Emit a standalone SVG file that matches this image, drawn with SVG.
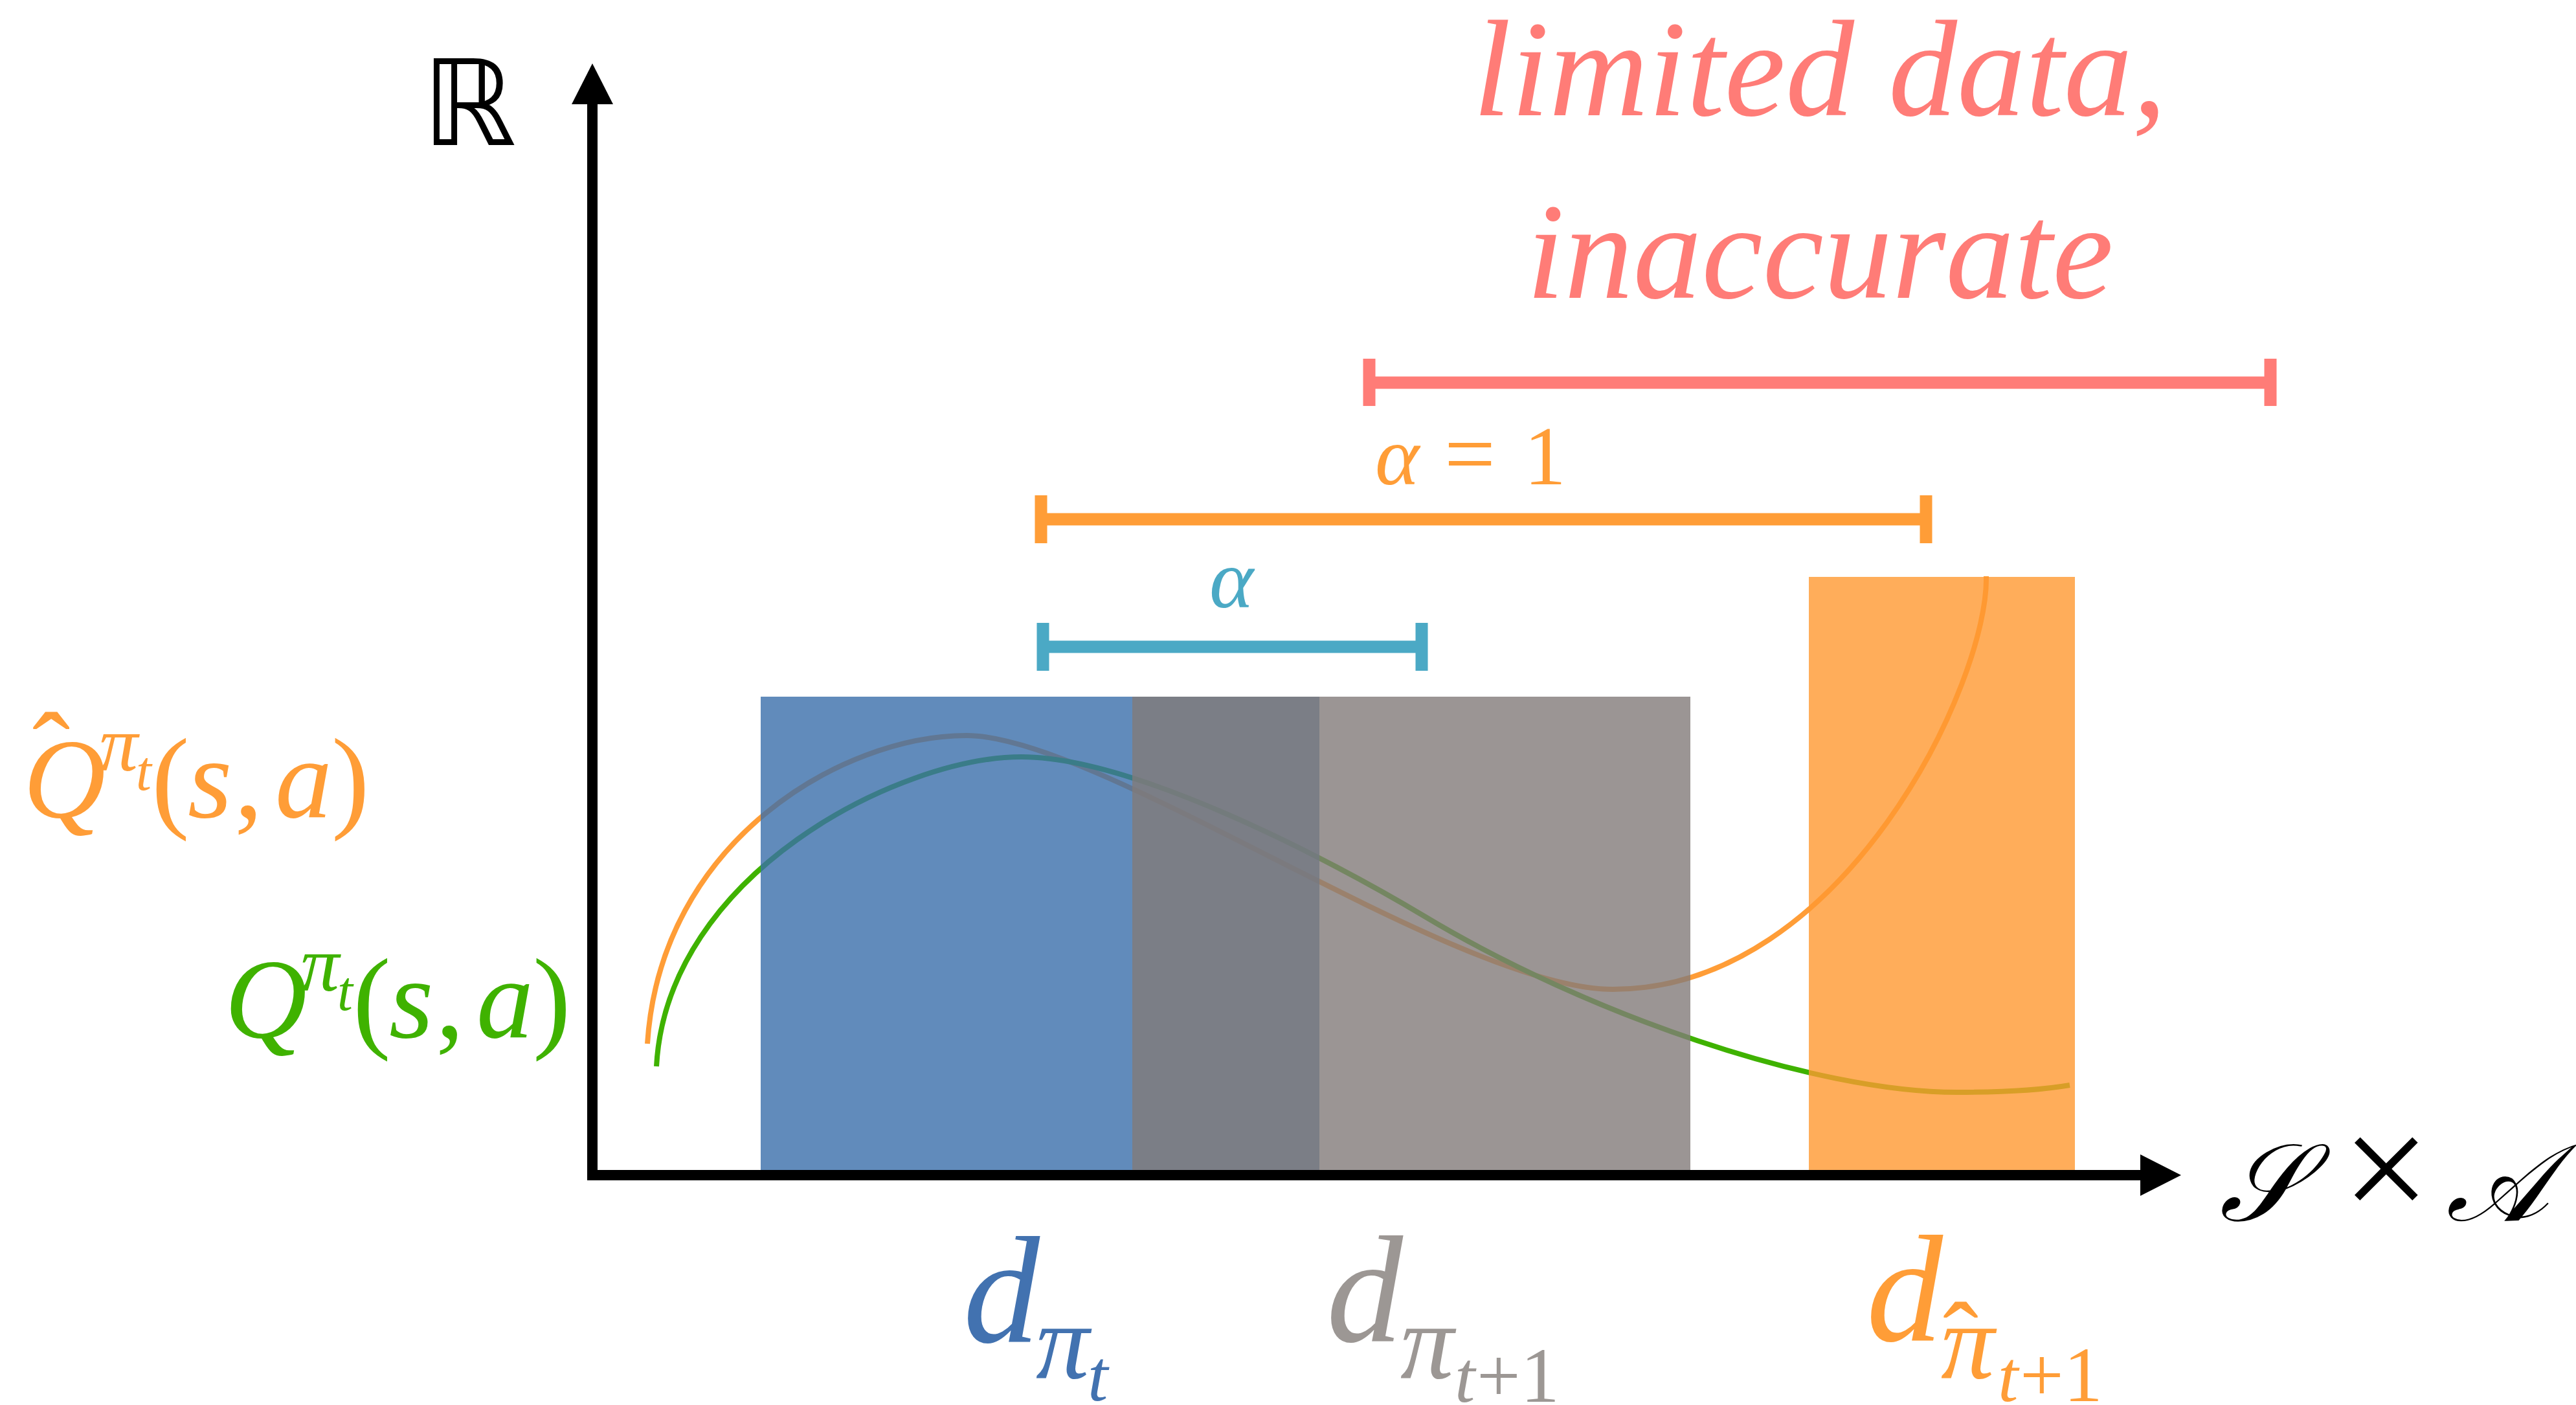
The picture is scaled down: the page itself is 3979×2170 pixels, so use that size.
<svg xmlns="http://www.w3.org/2000/svg" width="3979" height="2170" viewBox="0 0 3979 2170">
<style>
.m{font-family:"Liberation Serif","DejaVu Serif",serif;}
.i{font-style:italic;}
.u{font-style:normal;}
.cur{fill:none;stroke-width:8;stroke-linecap:butt;}
.bar{stroke-width:19;stroke-linecap:butt;fill:none;}
.ax{stroke:#000;stroke-width:16;fill:none;}
</style>
<defs>
<marker id="ah" markerUnits="userSpaceOnUse" markerWidth="64" markerHeight="64" refX="0" refY="32" orient="auto" viewBox="0 0 64 64">
<path d="M0,0 L63,32 L0,64 Z" fill="#000"/>
</marker>
</defs>
<rect width="3979" height="2170" fill="#fff"/>

<g id="curves">
<path id="q-hat-curve" class="cur" stroke="#FF9D37" d="M1000,1612 C1020,1300 1300,1136 1493,1136 C1700,1136 2250,1528 2491,1528 C2850,1528 3072,1050 3068,890"/>
<path id="q-curve" class="cur" stroke="#3FB200" d="M1014,1647 C1030,1350 1390,1169 1578,1169 C1750,1169 2050,1325 2200,1415 C2450,1565 2800,1687 3024,1687 C3100,1687 3150,1684 3197,1676"/>
</g>

<g id="dist-pi-t"><rect x="1175" y="1076" width="863" height="731" fill="#3A6EAA" fill-opacity="0.8"/></g>
<g id="dist-pi-t1"><rect x="1749" y="1076" width="862" height="731" fill="#827A79" fill-opacity="0.8"/></g>
<g id="dist-pi-hat-t1"><rect x="2794" y="891" width="411" height="916" fill="#FF9931" fill-opacity="0.8"/></g>

<g id="connectors">
<line class="ax" x1="908" y1="1815" x2="3306" y2="1815" marker-end="url(#ah)"/>
<line class="ax" x1="915" y1="1823" x2="915" y2="161" marker-end="url(#ah)"/>
</g>

<g id="interval-red">
<path class="bar" stroke="#FF7C77" d="M2115,591 H3507 M2115,554 V627 M3507,554 V627"/>
</g>
<g id="interval-alpha1">
<path class="bar" stroke="#FF9D37" d="M1608,802 H2975 M1608,765 V839 M2975,765 V839"/>
</g>
<g id="interval-alpha">
<path class="bar" stroke="#4BA9C5" d="M1611,999 H2196 M1611,962 V1036 M2196,962 V1036"/>
</g>

<g id="label-R"><text x="652" y="224" font-family="DejaVu Sans,sans-serif" font-size="184" fill="#000">ℝ</text></g>
<g id="label-SA"><text y="1885" class="m i" font-size="168" fill="#000"><tspan x="3428">𝒮</tspan><tspan class="u" x="3618" font-size="240">×</tspan><tspan x="3778">𝒜</tspan></text></g>

<g id="label-limited">
<text x="2811" y="178" class="m i" font-size="212" fill="#FF7C77" text-anchor="middle">limited data,</text>
<text x="2811" y="460" class="m i" font-size="212" fill="#FF7C77" text-anchor="middle">inaccurate</text>
</g>

<g id="label-alpha1"><text class="m" font-size="130" fill="#FF9D37" y="748"><tspan class="i" x="2124">α</tspan><tspan class="u" x="2231" font-size="140">=</tspan><tspan class="u" x="2354">1</tspan></text></g>
<g id="label-alpha"><text class="m i" font-size="130" fill="#4BA9C5" x="1902" y="938" text-anchor="middle">α</text></g>

<g id="label-qhat">
<text class="m" fill="#FF9D37" font-size="176">
<tspan class="u" x="101" y="1222" text-anchor="middle">ˆ</tspan>
<tspan class="i" x="36" y="1262">Q</tspan>
<tspan class="i" x="153" y="1190" font-size="120">π</tspan>
<tspan class="i" x="210" y="1220" font-size="86">t</tspan>
<tspan class="u" x="234" y="1262">(</tspan>
<tspan class="i" x="290" y="1262">s</tspan>
<tspan class="u" x="362" y="1262">,</tspan>
<tspan class="i" x="425" y="1262">a</tspan>
<tspan class="u" x="512" y="1262">)</tspan>
</text>
</g>

<g id="label-q">
<text class="m" fill="#3FB200" font-size="176">
<tspan class="i" x="347" y="1602">Q</tspan>
<tspan class="i" x="464" y="1530" font-size="120">π</tspan>
<tspan class="i" x="521" y="1560" font-size="86">t</tspan>
<tspan class="u" x="545" y="1602">(</tspan>
<tspan class="i" x="601" y="1602">s</tspan>
<tspan class="u" x="673" y="1602">,</tspan>
<tspan class="i" x="736" y="1602">a</tspan>
<tspan class="u" x="823" y="1602">)</tspan>
</text>
</g>

<g id="label-d-pi-t">
<text class="m i" fill="#4272B0" font-size="236">
<tspan x="1488" y="2073">d</tspan>
<tspan x="1600" y="2128" font-size="165">π</tspan>
<tspan x="1680" y="2163" font-size="113">t</tspan>
</text>
</g>

<g id="label-d-pi-t1">
<text class="m i" fill="#9C9794" font-size="236">
<tspan x="2049" y="2072">d</tspan>
<tspan x="2163" y="2128" font-size="165">π</tspan>
<tspan x="2247" y="2165" font-size="113">t</tspan>
<tspan class="u" x="2281" y="2165" font-size="120">+1</tspan>
</text>
</g>

<g id="label-d-pihat-t1">
<text class="m i" fill="#FF9D37" font-size="236">
<tspan x="2883" y="2071">d</tspan>
<tspan class="u" x="3058" y="2125" font-size="165" text-anchor="middle">ˆ</tspan>
<tspan x="2998" y="2128" font-size="165">π</tspan>
<tspan x="3086" y="2164" font-size="113">t</tspan>
<tspan class="u" x="3120" y="2164" font-size="120">+1</tspan>
</text>
</g>
</svg>
